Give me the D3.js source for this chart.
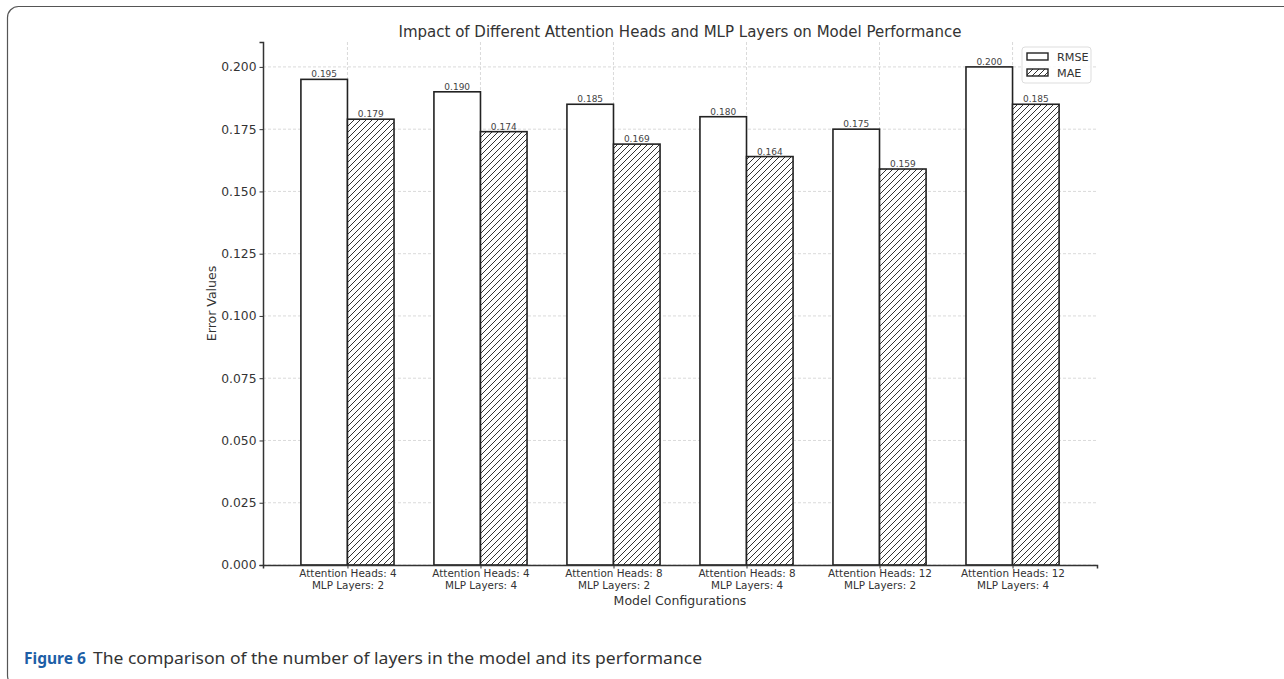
<!DOCTYPE html>
<html>
<head>
<meta charset="utf-8">
<script src="https://cdnjs.cloudflare.com/ajax/libs/d3/7.8.5/d3.min.js"></script>
<style>
  body { margin: 0; background: #fff; }
  svg { display: block; }
</style>
</head>
<body>
<svg id="chart"></svg>
<script>
// Data
const configHeads = ["Attention Heads: 4", "Attention Heads: 4", "Attention Heads: 8",
                     "Attention Heads: 8", "Attention Heads: 12", "Attention Heads: 12"];
const configLayers = ["MLP Layers: 2", "MLP Layers: 4", "MLP Layers: 2",
                      "MLP Layers: 4", "MLP Layers: 2", "MLP Layers: 4"];
const rmseValues = [0.195, 0.190, 0.185, 0.180, 0.175, 0.200];
const maeValues = [0.179, 0.174, 0.169, 0.164, 0.159, 0.185];
const yTicks = [0, 0.025, 0.05, 0.075, 0.1, 0.125, 0.15, 0.175, 0.2];
const seriesNames = ["RMSE", "MAE"];

const width = 1284;
const height = 679;
const plot = { left: 263, right: 1097, top: 42, bottom: 565 };
const barWidth = 0.35;
const font = "DejaVu Sans, sans-serif";

const svg = d3.select("#chart")
    .attr("width", width)
    .attr("height", height);

// Hatch pattern for the MAE bars
const defs = svg.append("defs");
defs.append("pattern")
    .attr("id", "hatch")
    .attr("patternUnits", "userSpaceOnUse")
    .attr("width", 6)
    .attr("height", 6)
    .call(p => {
        p.append("rect").attr("width", 6).attr("height", 6).attr("fill", "#fff");
        p.append("path")
            .attr("d", "M-1,1 l2,-2 M0,6 l6,-6 M5,7 l2,-2")
            .attr("stroke", "#333")
            .attr("stroke-width", 1);
    });

// Rounded frame around the figure
svg.append("rect")
    .attr("x", 7.5).attr("y", 6.5)
    .attr("width", 1300).attr("height", 680)
    .attr("rx", 11)
    .attr("fill", "none")
    .attr("stroke", "#555")
    .attr("stroke-width", 1.2);

// Scales
const x = d3.scaleLinear()
    .domain([-0.635, rmseValues.length - 1 + 0.635])
    .range([plot.left, plot.right]);

const y = d3.scaleLinear()
    .domain([0, 0.21])
    .range([plot.bottom, plot.top]);

const idx = d3.range(rmseValues.length);

// Grid lines
const grid = svg.append("g").attr("stroke", "#d0d0d0").attr("stroke-dasharray", "3,2").attr("stroke-width", 0.8);
grid.selectAll(".hgrid")
    .data(yTicks)
    .enter().append("line")
    .attr("x1", plot.left).attr("x2", plot.right)
    .attr("y1", d => y(d)).attr("y2", d => y(d));
grid.selectAll(".vgrid")
    .data(idx)
    .enter().append("line")
    .attr("x1", d => x(d)).attr("x2", d => x(d))
    .attr("y1", plot.top).attr("y2", plot.bottom);

// Bars
const bars = svg.append("g");
bars.selectAll(".rmse")
    .data(rmseValues)
    .enter().append("rect")
    .attr("x", (d, i) => x(i - barWidth))
    .attr("width", (d, i) => x(i) - x(i - barWidth))
    .attr("y", d => y(d))
    .attr("height", d => y(0) - y(d))
    .attr("fill", "#fff")
    .attr("stroke", "#222")
    .attr("stroke-width", 1.6);

bars.selectAll(".mae")
    .data(maeValues)
    .enter().append("rect")
    .attr("x", (d, i) => x(i))
    .attr("width", (d, i) => x(i + barWidth) - x(i))
    .attr("y", d => y(d))
    .attr("height", d => y(0) - y(d))
    .attr("fill", "url(#hatch)")
    .attr("stroke", "#222")
    .attr("stroke-width", 1.6);

// Value labels above bars
const labels = svg.append("g")
    .attr("font-family", font)
    .attr("font-size", 9)
    .attr("fill", "#444")
    .attr("text-anchor", "middle");
labels.selectAll(".lr")
    .data(rmseValues)
    .enter().append("text")
    .attr("x", (d, i) => x(i - barWidth / 2))
    .attr("y", d => y(d) - 2)
    .text(d => d3.format(".3f")(d));
labels.selectAll(".lm")
    .data(maeValues)
    .enter().append("text")
    .attr("x", (d, i) => x(i + barWidth / 2))
    .attr("y", d => y(d) - 2)
    .text(d => d3.format(".3f")(d));

// Y axis
const yAxis = svg.append("g")
    .attr("transform", `translate(${plot.left},0)`)
    .call(d3.axisLeft(y).tickValues(yTicks).tickFormat(d3.format(".3f")).tickSizeOuter(0).tickSize(3.5).tickPadding(3));
yAxis.selectAll("text").attr("font-family", font).attr("font-size", 12.3).attr("fill", "#333");
yAxis.select(".domain").attr("stroke", "#333").attr("stroke-width", 1.5);
yAxis.selectAll(".tick line").attr("stroke", "#333");

// X axis with two-line labels
const xAxis = svg.append("g")
    .attr("transform", `translate(0,${plot.bottom})`)
    .call(d3.axisBottom(x).tickValues(idx).tickFormat("").tickSizeOuter(0).tickSize(3.5));
xAxis.select(".domain").attr("stroke", "#333").attr("stroke-width", 1.5);
xAxis.selectAll(".tick line").attr("stroke", "#333");
xAxis.selectAll(".tick").each(function (d) {
    const t = d3.select(this).append("text")
        .attr("font-family", font)
        .attr("font-size", 10.4)
        .attr("fill", "#333")
        .attr("text-anchor", "middle");
    t.append("tspan").attr("x", 0).attr("y", 12).text(configHeads[d]);
    t.append("tspan").attr("x", 0).attr("y", 24).text(configLayers[d]);
});

// Axis titles and chart title
svg.append("text")
    .attr("x", (plot.left + plot.right) / 2)
    .attr("y", 605)
    .attr("text-anchor", "middle")
    .attr("font-family", font)
    .attr("font-size", 12.5)
    .attr("fill", "#333")
    .text("Model Configurations");

svg.append("text")
    .attr("transform", `translate(216,${(plot.top + plot.bottom) / 2}) rotate(-90)`)
    .attr("text-anchor", "middle")
    .attr("font-family", font)
    .attr("font-size", 12.5)
    .attr("fill", "#333")
    .text("Error Values");

svg.append("text")
    .attr("x", (plot.left + plot.right) / 2)
    .attr("y", 37)
    .attr("text-anchor", "middle")
    .attr("font-family", font)
    .attr("font-size", 15)
    .attr("fill", "#333")
    .text("Impact of Different Attention Heads and MLP Layers on Model Performance");

// Legend
const legend = svg.append("g").attr("transform", "translate(1022,47)");
legend.append("rect")
    .attr("width", 69).attr("height", 36)
    .attr("rx", 3)
    .attr("fill", "#fff").attr("fill-opacity", 0.85)
    .attr("stroke", "#ddd");
const legendItems = legend.selectAll(".item")
    .data(seriesNames)
    .enter().append("g")
    .attr("transform", (d, i) => `translate(5,${6 + i * 16})`);
legendItems.append("rect")
    .attr("width", 21).attr("height", 7)
    .attr("fill", (d, i) => i === 0 ? "#fff" : "url(#hatch)")
    .attr("stroke", "#222")
    .attr("stroke-width", 1.4);
legendItems.append("text")
    .attr("x", 30).attr("y", 8)
    .attr("font-family", font)
    .attr("font-size", 11.2)
    .attr("fill", "#333")
    .text(d => d);

// Figure caption
svg.append("text")
    .attr("x", 24)
    .attr("y", 664)
    .attr("font-family", "Noto Sans, sans-serif")
    .attr("font-size", 15.5)
    .attr("font-weight", "bold")
    .attr("fill", "#1d5ea6")
    .text("Figure 6");
svg.append("text")
    .attr("x", 93)
    .attr("y", 664)
    .attr("font-family", "Noto Sans, sans-serif")
    .attr("font-size", 16.5)
    .attr("fill", "#333")
    .attr("textLength", 609)
    .attr("lengthAdjust", "spacingAndGlyphs")
    .text("The comparison of the number of layers in the model and its performance");
</script>
</body>
</html>
